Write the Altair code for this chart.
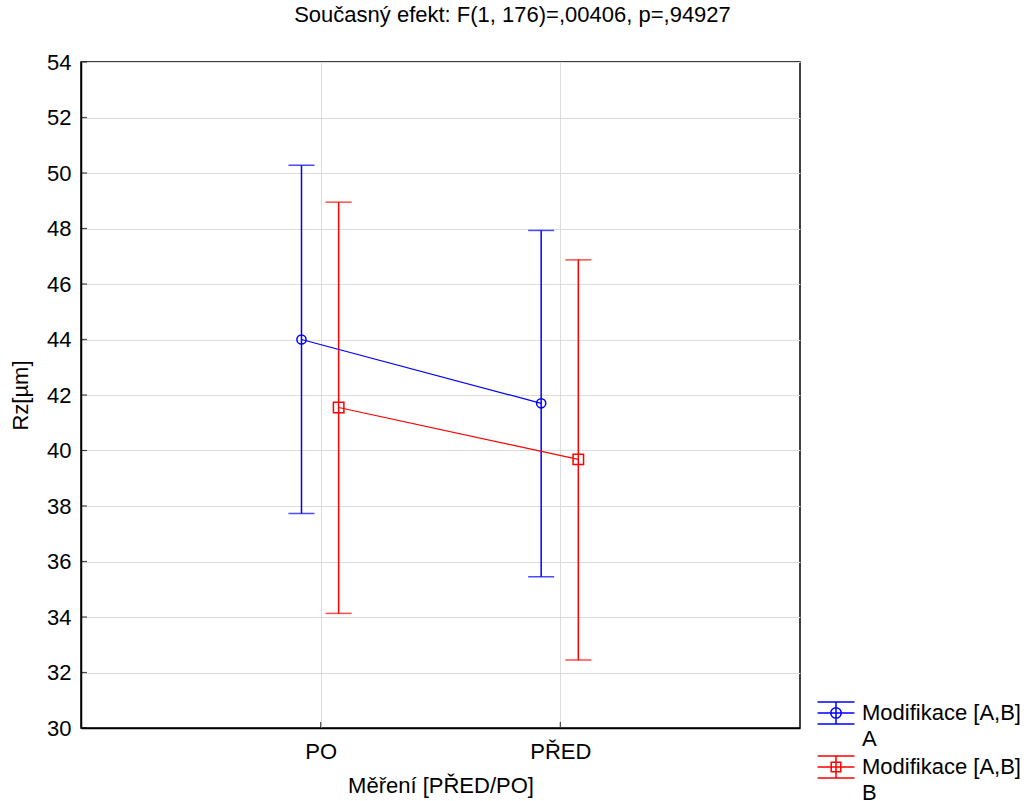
import json
import altair as alt
import pandas as pd

# ---------------- data ----------------
categories = ["PO", "PŘED"]
groups = ["A", "B"]
means_A = [44.0, 41.7]
upper_A = [50.28, 47.93]
lower_A = [37.73, 35.45]
means_B = [41.55, 39.68]
upper_B = [48.95, 46.87]
lower_B = [34.13, 32.45]
y_ticks = list(range(30, 56, 2))

# layout helpers (category slot + dodge per group)
cat_index = {c: i + 1 for i, c in enumerate(categories)}
dodge = {"A": -0.08, "B": 0.075}

rows = []
for g, m, u, l in (("A", means_A, upper_A, lower_A), ("B", means_B, upper_B, lower_B)):
    for i, c in enumerate(categories):
        rows.append({"cat": c, "group": g, "xpos": cat_index[c] + dodge[g],
                     "mean": m[i], "upper": u[i], "lower": l[i]})
df = pd.DataFrame(rows)
ticks_df = pd.DataFrame({"v": y_ticks})
xt_df = pd.DataFrame({"c": [cat_index[c] for c in categories]})

FONT = "Liberation Sans"
FS = 22
BLUE = "#0000ff"
RED = "#ff0000"
colors = [BLUE, RED]

xscale = alt.Scale(domain=[0, len(categories) + 1], nice=False, zero=False)
yscale = alt.Scale(domain=[30, 54], nice=False, zero=False)

label_expr = json.dumps(categories) + "[datum.value - 1]"

x_enc = alt.X("xpos:Q", scale=xscale,
              axis=alt.Axis(values=[cat_index[c] for c in categories], labelExpr=label_expr,
                            title="Měření [PŘED/PO]", grid=True, ticks=False,
                            labelPadding=13, titlePadding=13))
y_axis = alt.Axis(values=y_ticks, title="Rz[µm]", grid=True, ticks=False,
                  labelPadding=10, titlePadding=14)

color_nl = alt.Color("group:N", scale=alt.Scale(domain=groups, range=colors), legend=None)

base = alt.Chart(df)

rules = base.mark_rule(strokeWidth=1.5).encode(
    x=x_enc, y=alt.Y("lower:Q", scale=yscale, axis=y_axis), y2="upper:Q", color=color_nl)
cap_top = base.mark_tick(orient="horizontal", size=26, thickness=1.5).encode(
    x="xpos:Q", y="upper:Q", color=color_nl)
cap_bot = base.mark_tick(orient="horizontal", size=26, thickness=1.5).encode(
    x="xpos:Q", y="lower:Q", color=color_nl)
lines = base.mark_line(strokeWidth=1.2).encode(
    x="xpos:Q", y="mean:Q", color=color_nl, detail="group:N", order="xpos:Q")
points = base.mark_point(filled=False, strokeWidth=1.5, opacity=1).encode(
    x="xpos:Q", y="mean:Q", color=color_nl,
    shape=alt.Shape("group:N", scale=alt.Scale(domain=groups, range=["circle", "square"]), legend=None),
    size=alt.Size("group:N", scale=alt.Scale(domain=groups, range=[85, 110]), legend=None))

# inward axis ticks
ytick_layer = alt.Chart(ticks_df).mark_tick(orient="horizontal", size=6, thickness=1.2,
                                            color="black", xOffset=3).encode(
    x=alt.value(0), y=alt.Y("v:Q", scale=yscale))
xtick_layer = alt.Chart(xt_df).mark_tick(orient="vertical", size=6, thickness=1.2,
                                         color="black", yOffset=-3).encode(
    x=alt.X("c:Q", scale=xscale), y=alt.value(666))

# legend-only layer (no data drawn; entries come from the scale domain)
bar_path = "M-1.23,-0.73H1.23M-1.23,0.73H1.23M-1.23,0H1.23M0,-0.73V0.73"
circ = "M0.35,0A0.35,0.35 0 1,1 -0.35,0A0.35,0.35 0 1,1 0.35,0Z"
sq = "M-0.32,-0.32H0.32V0.32H-0.32Z"
legend_kw = dict(title=None, orient="none", legendX=739, legendY=635,
                 labelExpr="['Modifikace [A,B]', datum.label]",
                 labelFont=FONT, labelFontSize=FS, labelColor="black",
                 symbolSize=900, symbolStrokeWidth=1.5, symbolOpacity=1,
                 symbolFillColor="transparent", labelOffset=10,
                 rowPadding=1, labelLimit=300)
legend_layer = base.transform_filter("false").mark_point(filled=False, strokeWidth=1.5).encode(
    x="xpos:Q", y="mean:Q",
    color=alt.Color("group:N", scale=alt.Scale(domain=groups, range=colors),
                    legend=alt.Legend(**legend_kw)),
    shape=alt.Shape("group:N", scale=alt.Scale(domain=groups, range=[bar_path + circ, bar_path + sq]),
                    legend=alt.Legend(**legend_kw)))

chart = alt.layer(rules, cap_top, cap_bot, lines, points, ytick_layer, xtick_layer, legend_layer).resolve_scale(
    color="independent", shape="independent", size="independent"
).properties(
    width=719, height=666,
    title=alt.TitleParams("Současný efekt: F(1, 176)=,00406, p=,94927", font=FONT, fontSize=FS,
                          fontWeight="normal", color="black", anchor="middle", frame="group",
                          offset=24, dx=72),
    padding={"left": 9, "top": 4, "right": 5, "bottom": 5},
).configure(style={"guide-label": {"lineHeight": 26}}
).configure_view(stroke="black", strokeWidth=1.5).configure_axis(
    labelFont=FONT, titleFont=FONT, labelFontSize=FS, titleFontSize=FS,
    labelColor="black", titleColor="black", titleFontWeight="normal",
    domainColor="black", domainWidth=1.5, gridColor="#dcdcdc", gridWidth=1,
)

chart.save("out.html", embed_options={"renderer": "svg", "actions": False})
